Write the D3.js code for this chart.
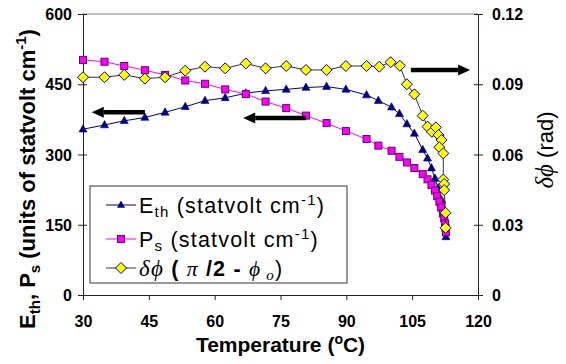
<!DOCTYPE html>
<html>
<head>
<meta charset="utf-8">
<script src="https://cdn.jsdelivr.net/npm/d3@7"></script>
<style>
body { margin: 0; background: #fff; }
svg { display: block; }
</style>
</head>
<body>
<div id="chart"></div>
<script>
// E_th (statvolt cm-1), left axis
let ethTemp = [30, 34.9, 39.4, 44.1, 48.7, 53.3, 57.8, 62.4, 67.1, 71.6, 76.3, 80.8, 85.5, 89.9, 94.6,
    97.3, 100.3, 102.1, 103.8, 105.5, 107.4, 108.5, 109.4, 110.2, 110.9, 111.7, 112.1, 112.5, 112.7, 112.7];
let ethVal = [354, 363, 372, 379, 390, 402, 415, 421, 431, 436, 439, 443, 445, 439, 427,
    415, 401, 387, 365, 345, 310, 292, 271, 249, 228, 203, 181, 160, 135, 124];

// P_s (statvolt cm-1), left axis
let psTemp = [30, 34.9, 39.4, 44.1, 48.7, 53.3, 57.8, 62.4, 67.1, 71.6, 76.3, 80.8, 85.5, 89.9, 94.6,
    97.3, 100.3, 102.1, 103.8, 105.5, 107.4, 108.5, 109.4, 110.2, 110.7, 111.2, 111.6, 112.0, 112.3, 112.5, 112.6, 112.7];
let psVal = [502, 498, 489, 480, 470, 458, 451, 439, 429, 413, 399, 383, 367, 350, 333,
    319, 308, 295, 283, 271, 258, 247, 235, 223, 211, 199, 187, 174, 164, 153, 143, 134];

// delta phi (rad), right axis
let dphiTemp = [30, 34.9, 39.4, 44.1, 48.7, 53.3, 57.8, 62.4, 67.1, 71.6, 76.3, 80.8, 85.5, 89.9, 94.6,
    97.5, 100.1, 102.2, 103.8, 105.5, 107.4, 108.5, 109.5, 110.4, 111.0, 111.7, 111.2, 112.1, 112.1, 112.3, 112.3, 112.6, 112.6];
let dphiVal = [0.0930, 0.0930, 0.0940, 0.0924, 0.0930, 0.0958, 0.0975, 0.0968, 0.0989, 0.0968, 0.0978, 0.0961, 0.0961, 0.0978, 0.0978,
    0.0975, 0.0994, 0.0979, 0.0900, 0.0857, 0.0766, 0.0719, 0.0697, 0.0716, 0.0683, 0.0662, 0.0631, 0.0605, 0.0493, 0.0474, 0.0448, 0.0351, 0.0287];

let xTicks = [30, 45, 60, 75, 90, 105, 120];
let leftTicks = [0, 150, 300, 450, 600];
let rightTicks = [0, 0.03, 0.06, 0.09, 0.12];

// arrows showing which axis a curve belongs to
let arrowTail = [44.1, 80.8, 104.7];
let arrowTip = [32.0, 66.5, 118.2];
let arrowLevel = [390, 378, 0.0961];
let arrowAxis = ["left", "left", "right"];

function main() {
    let width = 566, height = 364;
    let svg = d3.select("#chart").append("svg")
        .attr("width", width)
        .attr("height", height)
        .attr("font-family", "'Liberation Sans', Arial, sans-serif");

    let xScale = d3.scaleLinear().domain([30, 120]).range([83, 478]);
    let yLeft = d3.scaleLinear().domain([0, 600]).range([295, 14]);
    let yRight = d3.scaleLinear().domain([0, 0.12]).range([295, 14]);

    // top frame line
    svg.append("line")
        .attr("x1", xScale(30)).attr("x2", xScale(120))
        .attr("y1", yLeft(600)).attr("y2", yLeft(600))
        .attr("stroke", "#808080").attr("stroke-width", 1);

    // x axis
    let gx = svg.append("g")
        .attr("transform", "translate(0," + yLeft(0) + ")")
        .call(d3.axisBottom(xScale).tickValues(xTicks).tickSize(5).tickFormat(d3.format("d")));
    gx.selectAll("text")
        .attr("y", 32).attr("dy", 0)
        .attr("font-size", 16).attr("font-weight", "bold")
        .attr("font-family", "'Liberation Sans', Arial, sans-serif").attr("fill", "#000");

    // left axis
    let gl = svg.append("g")
        .attr("transform", "translate(" + xScale(30) + ",0)")
        .call(d3.axisLeft(yLeft).tickValues(leftTicks).tickSize(5));
    gl.selectAll(".tick line").attr("x1", 4).attr("x2", -5);
    gl.selectAll("text")
        .attr("x", -11).attr("dy", "0.35em")
        .attr("font-size", 16).attr("font-weight", "bold")
        .attr("font-family", "'Liberation Sans', Arial, sans-serif").attr("fill", "#000");

    // right axis
    let gr = svg.append("g")
        .attr("transform", "translate(" + xScale(120) + ",0)")
        .call(d3.axisRight(yRight).tickValues(rightTicks).tickSize(5).tickFormat(d => d === 0 ? "0" : d3.format(".2f")(d)));
    gr.selectAll(".tick line").attr("x1", -4).attr("x2", 5);
    gr.selectAll("text")
        .attr("x", 14).attr("dy", "0.35em")
        .attr("font-size", 16).attr("font-weight", "bold")
        .attr("font-family", "'Liberation Sans', Arial, sans-serif").attr("fill", "#000");

    svg.selectAll(".domain").attr("stroke", "#222");
    svg.selectAll(".tick line").attr("stroke", "#222");

    // series
    let ethData = ethTemp.map((t, i) => [t, ethVal[i]]);
    let psData = psTemp.map((t, i) => [t, psVal[i]]);
    let dphiData = dphiTemp.map((t, i) => [t, dphiVal[i]]);

    let lineLeft = d3.line().x(d => xScale(d[0])).y(d => yLeft(d[1]));
    let lineRight = d3.line().x(d => xScale(d[0])).y(d => yRight(d[1]));

    svg.append("path").attr("d", lineLeft(ethData))
        .attr("fill", "none").attr("stroke", "#000080").attr("stroke-width", 1);
    svg.append("g").selectAll("path")
        .data(ethData).enter().append("path")
        .attr("transform", d => "translate(" + xScale(d[0]) + "," + yLeft(d[1]) + ")")
        .attr("d", "M0,-4.5L4,2.8L-4,2.8Z")
        .attr("fill", "#000080").attr("stroke", "#000080").attr("stroke-width", 0.6);

    svg.append("path").attr("d", lineLeft(psData))
        .attr("fill", "none").attr("stroke", "#FF00FF").attr("stroke-width", 1);
    svg.append("g").selectAll("rect")
        .data(psData).enter().append("rect")
        .attr("x", d => xScale(d[0]) - 3.5)
        .attr("y", d => yLeft(d[1]) - 3.5)
        .attr("width", 7).attr("height", 7)
        .attr("fill", "#FF00FF").attr("stroke", "#660066").attr("stroke-width", 1);

    svg.append("path").attr("d", lineRight(dphiData))
        .attr("fill", "none").attr("stroke", "#333").attr("stroke-width", 1);
    svg.append("g").selectAll("path")
        .data(dphiData).enter().append("path")
        .attr("transform", d => "translate(" + xScale(d[0]) + "," + yRight(d[1]) + ")")
        .attr("d", "M0,-5.5L5.5,0L0,5.5L-5.5,0Z")
        .attr("fill", "#FFFF00").attr("stroke", "#000080").attr("stroke-width", 1);

    // arrows
    arrowTail.forEach((t, i) => {
        let sc = arrowAxis[i] === "left" ? yLeft : yRight;
        let y = sc(arrowLevel[i]);
        let x0 = xScale(t), x1 = xScale(arrowTip[i]);
        let dir = x1 > x0 ? 1 : -1;
        let headLen = 12;
        svg.append("line")
            .attr("x1", x0).attr("x2", x1 - dir * headLen)
            .attr("y1", y).attr("y2", y)
            .attr("stroke", "#000").attr("stroke-width", 4.5);
        svg.append("path")
            .attr("d", "M" + x1 + "," + y + "L" + (x1 - dir * headLen) + "," + (y - 5.5) + "L" + (x1 - dir * headLen) + "," + (y + 5.5) + "Z")
            .attr("fill", "#000");
    });

    // axis titles
    let xt = svg.append("text")
        .attr("x", (xScale(30) + xScale(120)) / 2).attr("y", 352)
        .attr("text-anchor", "middle")
        .attr("font-size", 21).attr("font-weight", "bold");
    xt.append("tspan").text("Temperature (");
    xt.append("tspan").attr("font-size", 14).attr("dy", -8).text("o");
    xt.append("tspan").attr("dy", 8).text("C)");

    let yt = svg.append("text")
        .attr("transform", "translate(35,179) rotate(-90)")
        .attr("text-anchor", "middle")
        .attr("font-size", 22).attr("font-weight", "bold");
    yt.append("tspan").text("E");
    yt.append("tspan").attr("font-size", 15).attr("dy", 5).text("th");
    yt.append("tspan").attr("dy", -5).text(", P");
    yt.append("tspan").attr("font-size", 15).attr("dy", 5).text("s");
    yt.append("tspan").attr("dy", -5).text(" (units of statvolt cm");
    yt.append("tspan").attr("font-size", 15).attr("dy", -9).text("-1");
    yt.append("tspan").attr("dy", 9).text(")");

    let rt = svg.append("text")
        .attr("transform", "translate(553,150) rotate(-90)")
        .attr("text-anchor", "middle")
        .attr("font-size", 22);
    rt.append("tspan").attr("font-family", "'Liberation Serif', serif").attr("font-style", "italic")
        .attr("font-size", 25).text("δϕ");
    rt.append("tspan").text(" (rad)");

    // legend
    let lg = svg.append("g");
    lg.append("rect")
        .attr("x", 90).attr("y", 186).attr("width", 257).attr("height", 97)
        .attr("fill", "#fff").attr("stroke", "#333").attr("stroke-width", 1);

    let rows = [205, 239, 268];
    let lx0 = 106, lx1 = 136, lm = 121;
    lg.append("line").attr("x1", lx0).attr("x2", lx1).attr("y1", rows[0]).attr("y2", rows[0]).attr("stroke", "#000080");
    lg.append("path").attr("transform", "translate(" + lm + "," + rows[0] + ")")
        .attr("d", "M0,-4.5L4,2.8L-4,2.8Z").attr("fill", "#000080");
    lg.append("line").attr("x1", lx0).attr("x2", lx1).attr("y1", rows[1]).attr("y2", rows[1]).attr("stroke", "#FF00FF");
    lg.append("rect").attr("x", lm - 3.5).attr("y", rows[1] - 3.5).attr("width", 7).attr("height", 7)
        .attr("fill", "#FF00FF").attr("stroke", "#660066");
    lg.append("line").attr("x1", lx0).attr("x2", lx1).attr("y1", rows[2]).attr("y2", rows[2]).attr("stroke", "#333");
    lg.append("path").attr("transform", "translate(" + lm + "," + rows[2] + ")")
        .attr("d", "M0,-5.5L5.5,0L0,5.5L-5.5,0Z").attr("fill", "#FFFF00").attr("stroke", "#000080");

    let t1 = lg.append("text").attr("x", 139).attr("y", rows[0] + 8)
        .attr("font-size", 21.5).attr("letter-spacing", 1.2);
    t1.append("tspan").text("E");
    t1.append("tspan").attr("font-size", 15).attr("dy", 4).text("th");
    t1.append("tspan").attr("dy", -4).text(" (statvolt cm");
    t1.append("tspan").attr("font-size", 15).attr("dy", -8).text("-1");
    t1.append("tspan").attr("dy", 8).text(")");

    let t2 = lg.append("text").attr("x", 139).attr("y", rows[1] + 8)
        .attr("font-size", 21.5).attr("letter-spacing", 1.2);
    t2.append("tspan").text("P");
    t2.append("tspan").attr("font-size", 15).attr("dy", 4).text("s");
    t2.append("tspan").attr("dy", -4).text(" (statvolt cm");
    t2.append("tspan").attr("font-size", 15).attr("dy", -8).text("-1");
    t2.append("tspan").attr("dy", 8).text(")");

    let t3 = lg.append("text").attr("x", 139).attr("y", rows[2] + 8)
        .attr("font-size", 21.5).attr("letter-spacing", 1.2);
    t3.append("tspan").attr("font-family", "'Liberation Serif', serif").attr("font-style", "italic")
        .attr("font-size", 23).text("δϕ");
    t3.append("tspan").attr("font-weight", "bold").text("  ( ");
    t3.append("tspan").attr("font-family", "'Liberation Serif', serif").attr("font-style", "italic").text("π");
    t3.append("tspan").attr("font-weight", "bold").text(" /2 - ");
    t3.append("tspan").attr("font-family", "'Liberation Serif', serif").attr("font-style", "italic").text("ϕ");
    t3.append("tspan").attr("font-family", "'Liberation Serif', serif").attr("font-style", "italic")
        .attr("font-size", 15).attr("dy", 4).text(" o");
    t3.append("tspan").attr("dy", -4).text(")");
}

main();
</script>
</body>
</html>
